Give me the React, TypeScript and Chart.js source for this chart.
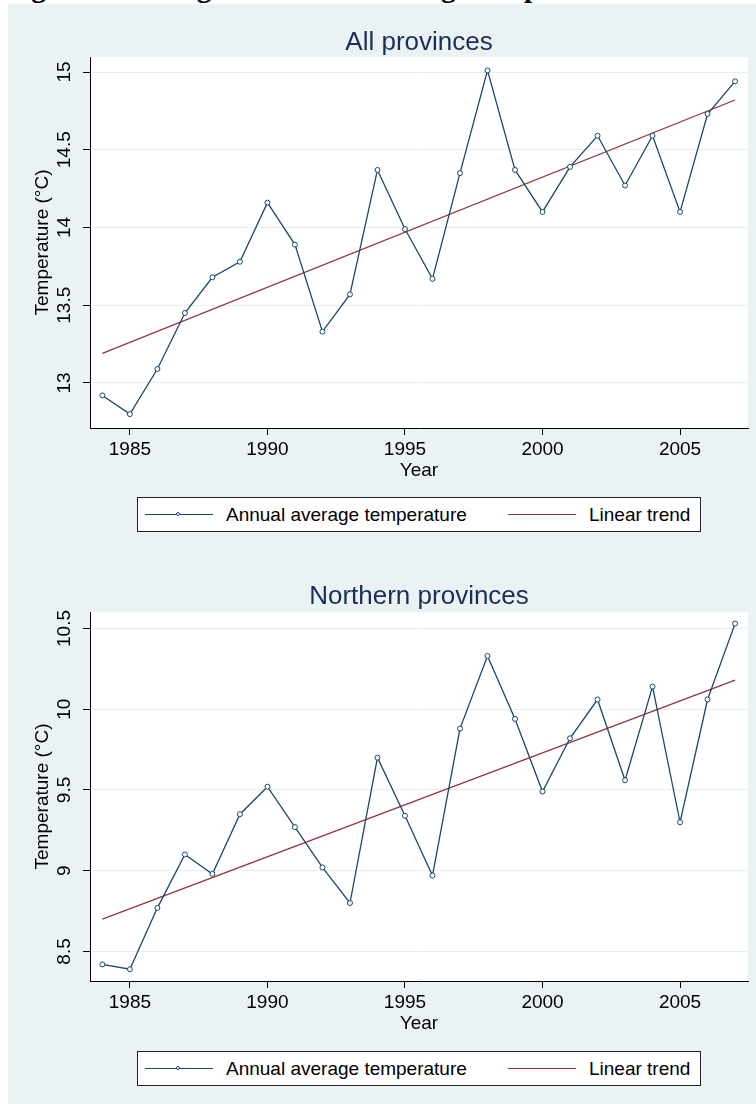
import React, { useEffect, useRef } from "react";
import { Chart, registerables } from "chart.js";

Chart.register(...registerables);

// ---- Data ----
const YEARS = [1984, 1985, 1986, 1987, 1988, 1989, 1990, 1991, 1992, 1993, 1994, 1995, 1996, 1997, 1998, 1999, 2000, 2001, 2002, 2003, 2004, 2005, 2006, 2007];
const ALL_TEMP = [12.92, 12.8, 13.09, 13.45, 13.68, 13.78, 14.16, 13.89, 13.33, 13.57, 14.37, 13.99, 13.67, 14.35, 15.01, 14.37, 14.1, 14.39, 14.59, 14.27, 14.59, 14.1, 14.73, 14.94];
const TREND_YEARS = [1984, 2007];
const ALL_TREND = [13.19, 14.82];
const NORTH_TEMP = [8.42, 8.39, 8.77, 9.1, 8.98, 9.35, 9.52, 9.27, 9.02, 8.8, 9.7, 9.34, 8.97, 9.88, 10.33, 9.94, 9.49, 9.82, 10.06, 9.56, 10.14, 9.3, 10.06, 10.53];
const NORTH_TREND = [8.7, 10.18];
const X_TICKS = [1985, 1990, 1995, 2000, 2005];
const ALL_Y_TICKS = [13, 13.5, 14, 14.5, 15];
const NORTH_Y_TICKS = [8.5, 9, 9.5, 10, 10.5];
const SERIES_LABELS = ["Annual average temperature", "Linear trend"];
const TITLES = ["All provinces", "Northern provinces"];
const CAPTION = "Figure 2: Changes in annual average temperature in Vietnam";

const NAVY = "#1a476f";
const MAROON = "#90353b";
const PANEL = "#eaf2f3";
const GRID = "#e6eef0";
const FONT = "'Liberation Sans', Arial, sans-serif";

const whiteArea = {
  id: "whiteArea",
  beforeDraw(chart: any) {
    const { ctx, chartArea } = chart;
    ctx.save();
    ctx.fillStyle = "#ffffff";
    ctx.fillRect(chartArea.left, chartArea.top, chartArea.right - chartArea.left, chartArea.bottom - chartArea.top);
    ctx.restore();
  },
};

type ChartProps = {
  temps: number[];
  trend: number[];
  yTicks: number[];
  yMin: number;
  yMax: number;
  plotTop: number;
  top: number;
};

function TempChart({ temps, trend, yTicks, yMin, yMax, plotTop, top }: ChartProps) {
  const ref = useRef<HTMLCanvasElement>(null);
  useEffect(() => {
    if (!ref.current) return;
    const chart = new Chart(ref.current, {
      type: "line",
      data: {
        datasets: [
          {
            label: SERIES_LABELS[0],
            data: YEARS.map((yr, i) => ({ x: yr, y: temps[i] })),
            borderColor: NAVY,
            borderWidth: 1.3,
            pointRadius: 2.5,
            pointBorderWidth: 1,
            pointBackgroundColor: "#ffffff",
            pointBorderColor: NAVY,
            tension: 0,
            fill: false,
          },
          {
            label: SERIES_LABELS[1],
            data: TREND_YEARS.map((yr, i) => ({ x: yr, y: trend[i] })),
            borderColor: MAROON,
            borderWidth: 1.3,
            pointRadius: 0,
            tension: 0,
            fill: false,
          },
        ],
      },
      options: {
        animation: false,
        responsive: false,
        maintainAspectRatio: false,
        events: [],
        layout: { padding: { top: plotTop, left: 0, right: 8, bottom: 0 } },
        plugins: {
          legend: { display: false },
          title: { display: false },
          tooltip: { enabled: false },
        },
        scales: {
          x: {
            type: "linear",
            min: 1983.55,
            max: 2007.47,
            bounds: "data",
            afterFit: (s: any) => {
              s.height = 76;
            },
            afterBuildTicks: (s: any) => {
              s.ticks = X_TICKS.map((v) => ({ value: v }));
            },
            ticks: {
              autoSkip: false,
              minRotation: 0,
              maxRotation: 0,
              padding: 3,
              color: "#000",
              font: { family: FONT, size: 19 },
              callback: (v: any) => String(v),
            },
            grid: {
              drawOnChartArea: false,
              drawTicks: true,
              tickLength: 7,
              tickColor: "#000",
              tickWidth: 1,
            },
            border: { display: true, color: "#000", width: 1 },
            title: {
              display: true,
              text: "Year",
              color: "#000",
              font: { family: FONT, size: 19 },
              padding: { top: 0, bottom: 21.6 },
            },
          },
          y: {
            type: "linear",
            min: yMin,
            max: yMax,
            bounds: "data",
            afterFit: (s: any) => {
              s.width = 82;
            },
            afterBuildTicks: (s: any) => {
              s.ticks = yTicks.map((v) => ({ value: v }));
            },
            ticks: {
              autoSkip: false,
              minRotation: 90,
              maxRotation: 90,
              crossAlign: "center",
              padding: 0,
              color: "#000",
              font: { family: FONT, size: 19 },
              callback: (v: any) => (Number.isInteger(v) ? String(v) : Number(v).toFixed(1)),
            },
            grid: {
              color: GRID,
              lineWidth: 1,
              drawOnChartArea: true,
              drawTicks: true,
              tickLength: 7,
              tickColor: "#000",
              tickWidth: 1,
            },
            border: { display: true, color: "#000", width: 1 },
            title: {
              display: true,
              text: "Temperature (°C)",
              color: "#000",
              font: { family: FONT, size: 19 },
              padding: { top: 23.1, bottom: 0 },
            },
          },
        },
      } as any,
      plugins: [whiteArea],
    });
    return () => chart.destroy();
  }, []);
  return (
    <canvas
      ref={ref}
      width={748}
      height={500}
      style={{ position: "absolute", left: 0, top, width: 748, height: 500 }}
    />
  );
}

function Legend({ top }: { top: number }) {
  const text: React.CSSProperties = {
    position: "absolute",
    top: 0,
    height: 33,
    lineHeight: "33px",
    fontFamily: FONT,
    fontSize: 19,
    color: "#000",
    whiteSpace: "nowrap",
  };
  return (
    <div
      style={{
        position: "absolute",
        left: 129,
        top,
        width: 562,
        height: 33,
        border: "1px solid #222",
        background: "#fff",
        zIndex: 2,
      }}
    >
      <div style={{ position: "absolute", left: 7, top: 16, width: 68, height: 1.3, background: NAVY }} />
      <div
        style={{
          position: "absolute",
          left: 38,
          top: 14,
          width: 4,
          height: 4,
          borderRadius: "50%",
          border: `1px solid ${NAVY}`,
          background: "#fff",
          boxSizing: "border-box",
        }}
      />
      <div style={{ ...text, left: 88 }}>{SERIES_LABELS[0]}</div>
      <div style={{ position: "absolute", left: 370, top: 16, width: 68, height: 1.3, background: MAROON }} />
      <div style={{ ...text, left: 451 }}>{SERIES_LABELS[1]}</div>
    </div>
  );
}

function Title({ text, top }: { text: string; top: number }) {
  return (
    <div
      style={{
        position: "absolute",
        left: 411,
        top,
        transform: "translateX(-50%)",
        fontFamily: FONT,
        fontSize: 26,
        lineHeight: "30px",
        color: "#1a2e5a",
        whiteSpace: "nowrap",
        zIndex: 2,
      }}
    >
      {text}
    </div>
  );
}

export default function App() {
  return (
    <div
      style={{
        position: "absolute",
        left: 0,
        top: 0,
        width: 756,
        height: 1104,
        background: "#fff",
        overflow: "hidden",
      }}
    >
      <div style={{ position: "absolute", left: 0, top: 0, width: 756, height: 4, overflow: "hidden" }}>
        <span
          style={{
            position: "absolute",
            left: 5,
            top: -28,
            fontFamily: "'Liberation Serif', 'Times New Roman', serif",
            fontWeight: "bold",
            fontSize: 29.6,
            lineHeight: "30px",
            whiteSpace: "nowrap",
            color: "#000",
          }}
        >
          {CAPTION}
        </span>
      </div>
      <div style={{ position: "absolute", left: 8, top: 4, width: 748, height: 1100, background: PANEL }}>
        <Title text={TITLES[0]} top={22} />
        <TempChart temps={ALL_TEMP} trend={ALL_TREND} yTicks={ALL_Y_TICKS} yMin={12.7106} yMax={15.0965} plotTop={53} top={0} />
        <Legend top={493} />
        <Title text={TITLES[1]} top={576} />
        <TempChart temps={NORTH_TEMP} trend={NORTH_TREND} yTicks={NORTH_Y_TICKS} yMin={8.317} yMax={10.602} plotTop={55} top={553} />
        <Legend top={1047} />
      </div>
    </div>
  );
}
